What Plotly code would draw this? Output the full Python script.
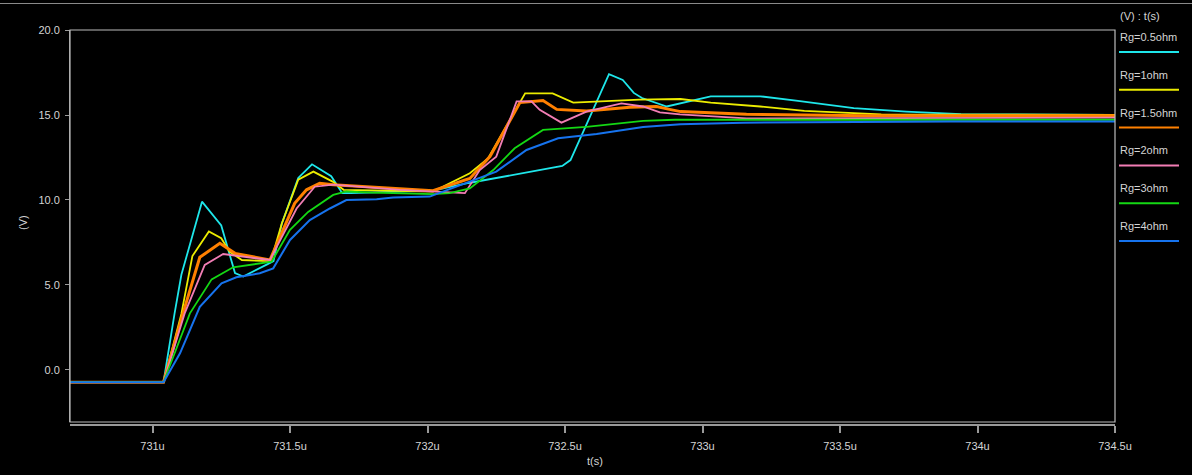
import plotly.graph_objects as go

# Gate voltage transients for several gate resistances (time in microseconds, volts)
series_names = ["Rg=0.5ohm", "Rg=1ohm", "Rg=1.5ohm", "Rg=2ohm", "Rg=3ohm", "Rg=4ohm"]
series_colors = ["#1ee6ea", "#ecec00", "#ff8000", "#f27db4", "#14d814", "#1673ee"]
series_widths = [1.8, 1.8, 3.0, 1.8, 1.8, 2.0]

t_05 = [730.70, 731.04, 731.08, 731.105, 731.18, 731.25, 731.30, 731.33, 731.415, 731.44,
        731.47, 731.53, 731.58, 731.65, 731.69, 731.72, 732.02, 732.15, 732.49, 732.52,
        732.66, 732.71, 732.75, 732.78, 732.87, 732.92, 733.03, 733.21, 733.34, 733.55,
        733.74, 733.94, 734.5]
v_05 = [-0.72, -0.72, 3.3, 5.6, 9.9, 8.5, 5.7, 5.5, 6.2, 6.4,
        8.6, 11.3, 12.1, 11.4, 10.4, 10.4, 10.55, 11.0, 12.0, 12.35,
        17.4, 17.06, 16.3, 16.0, 15.5, 15.7, 16.1, 16.1, 15.85, 15.4,
        15.2, 15.05, 15.0]

t_1 = [730.70, 731.04, 731.105, 731.145, 731.205, 731.25, 731.28, 731.325, 731.43, 731.47,
       731.53, 731.585, 731.655, 731.695, 732.02, 732.154, 732.22, 732.355, 732.455, 732.53,
       732.69, 732.77, 732.92, 733.03, 733.21, 733.37, 733.65, 734.5]
v_1 = [-0.72, -0.72, 3.3, 6.7, 8.15, 7.75, 6.96, 6.47, 6.4, 8.6,
       11.2, 11.67, 11.08, 10.6, 10.5, 11.57, 12.45, 16.27, 16.27, 15.73,
       15.85, 15.9, 15.94, 15.73, 15.5, 15.24, 15.04, 15.0]

t_15 = [730.70, 731.04, 731.111, 731.172, 731.245, 731.30, 731.427, 731.463, 731.517, 731.56,
        731.608, 731.657, 732.02, 732.154, 732.227, 732.336, 732.42, 732.47, 732.578, 732.736,
        732.833, 732.88, 732.92, 733.16, 733.6, 734.5]
v_15 = [-0.72, -0.72, 3.33, 6.63, 7.45, 6.86, 6.47, 7.76, 9.8, 10.6,
        10.98, 10.9, 10.55, 11.27, 12.55, 15.73, 15.85, 15.33, 15.24, 15.45,
        15.5, 15.33, 15.2, 15.04, 14.96, 14.95]

t_2 = [730.70, 731.04, 731.117, 731.19, 731.257, 731.427, 731.524, 731.59, 731.657, 731.9,
       732.136, 732.19, 732.25, 732.324, 732.378, 732.408, 732.487, 732.578, 732.705, 732.784,
       732.845, 732.918, 733.16, 734.5]
v_2 = [-0.72, -0.72, 3.33, 6.18, 6.82, 6.47, 9.5, 10.78, 10.9, 10.6,
       10.4, 11.76, 12.55, 15.8, 15.8, 15.3, 14.55, 15.2, 15.68, 15.5,
       15.15, 15.04, 14.8, 14.84]

t_3 = [730.70, 731.04, 731.136, 731.215, 731.293, 731.354, 731.433, 731.5, 731.566, 731.657,
       731.705, 731.8, 732.02, 732.08, 732.154, 732.239, 732.317, 732.42, 732.578, 732.784,
       732.9, 734.5]
v_3 = [-0.72, -0.72, 3.33, 5.33, 6.04, 6.18, 6.37, 8.24, 9.3, 10.3,
       10.5, 10.43, 10.35, 10.4, 10.68, 11.76, 13.04, 14.12, 14.3, 14.65,
       14.72, 14.72]

t_4 = [730.70, 731.04, 731.10, 731.172, 731.251, 731.305, 731.39, 731.439, 731.5, 731.572,
       731.645, 731.705, 731.815, 731.875, 732.008, 732.154, 732.25, 732.36, 732.475, 732.615,
       732.784, 732.92, 733.148, 733.9, 734.5]
v_4 = [-0.72, -0.72, 0.98, 3.72, 5.1, 5.45, 5.69, 5.98, 7.65, 8.82,
       9.5, 10.0, 10.04, 10.14, 10.2, 11.08, 11.67, 12.94, 13.63, 13.88,
       14.3, 14.45, 14.55, 14.62, 14.62]

series_t = [t_05, t_1, t_15, t_2, t_3, t_4]
series_v = [v_05, v_1, v_15, v_2, v_3, v_4]

x_ticks = [731.0, 731.5, 732.0, 732.5, 733.0, 733.5, 734.0, 734.5]
x_tick_labels = ["731u", "731.5u", "732u", "732.5u", "733u", "733.5u", "734u", "734.5u"]
y_ticks = [0, 5, 10, 15, 20]
y_tick_labels = ["0.0", "5.0", "10.0", "15.0", "20.0"]

W, H = 1192, 475
ML, MR, MT, MB = 70, 77, 30, 50
PW = W - ML - MR
PH = H - MT - MB
GAP = 3  # space between plot frame and x axis line


def px_x(px):
    return (px - ML) / PW


def px_y(py):
    return (H - MB - py) / PH


FONT = "Liberation Sans, Arial, sans-serif"
TXT = "#d4d4d4"
AXC = "#9a9a9a"

fig = go.Figure()
for t, v, name, col, w in zip(series_t, series_v, series_names, series_colors, series_widths):
    fig.add_trace(go.Scatter(x=t, y=v, mode="lines", name=name,
                             line=dict(color=col, width=w), showlegend=False))

shapes = [
    # plot frame
    dict(type="rect", xref="x domain", yref="y domain", x0=0, x1=1, y0=0, y1=1,
         line=dict(color="#bcbcbc", width=1.2), layer="above"),
    # thin rule across the top of the page
    dict(type="line", xref="paper", yref="paper", x0=px_x(0), x1=px_x(W),
         y0=px_y(3.5), y1=px_y(3.5), line=dict(color="#8a8a8a", width=1)),
]
annotations = [
    dict(text="(V) : t(s)", xref="paper", yref="paper", x=px_x(1118), y=px_y(16),
         xanchor="left", yanchor="middle", showarrow=False, font=dict(color=TXT, size=11, family=FONT)),
    dict(text="(V)", xref="paper", yref="paper", x=px_x(23), y=px_y(223), textangle=-90,
         xanchor="center", yanchor="middle", showarrow=False, font=dict(color=TXT, size=11, family=FONT)),
    dict(text="t(s)", xref="paper", yref="paper", x=px_x(595), y=px_y(461),
         xanchor="center", yanchor="middle", showarrow=False, font=dict(color=TXT, size=11, family=FONT)),
]

# legend: label above a colour swatch, stacked down the right side
for i, (name, col, w) in enumerate(zip(series_names, series_colors, series_widths)):
    ty = 37 + i * 37.8
    ly = 52 + i * 37.8
    annotations.append(dict(text=name, xref="paper", yref="paper", x=px_x(1118), y=px_y(ty),
                            xanchor="left", yanchor="middle", showarrow=False,
                            font=dict(color=TXT, size=11, family=FONT)))
    shapes.append(dict(type="line", xref="paper", yref="paper", x0=px_x(1119), x1=px_x(1179),
                       y0=px_y(ly), y1=px_y(ly), line=dict(color=col, width=2)))

fig.update_layout(
    width=W, height=H,
    margin=dict(l=ML, r=MR, t=MT, b=MB, pad=0),
    paper_bgcolor="black", plot_bgcolor="black",
    font=dict(family=FONT, size=11, color=TXT),
    shapes=shapes, annotations=annotations,
    xaxis=dict(range=[730.70, 734.5], tickvals=x_ticks, ticktext=x_tick_labels,
               showgrid=False, zeroline=False, showline=True, linecolor=AXC, linewidth=2,
               ticks="outside", ticklen=7, tickwidth=1.5, tickcolor=AXC,
               ticklabelstandoff=4,
               anchor="free", position=0, tickfont=dict(color=TXT, size=11, family=FONT)),
    yaxis=dict(range=[-3.06, 20.0], domain=[GAP / PH, 1], tickvals=y_ticks, ticktext=y_tick_labels,
               showgrid=False, zeroline=False, showline=True, linecolor=AXC, linewidth=1,
               ticks="outside", ticklen=4, tickwidth=1, tickcolor=AXC,
               ticklabelstandoff=3, tickfont=dict(color=TXT, size=11, family=FONT)),
)

fig.write_html("out.html")
